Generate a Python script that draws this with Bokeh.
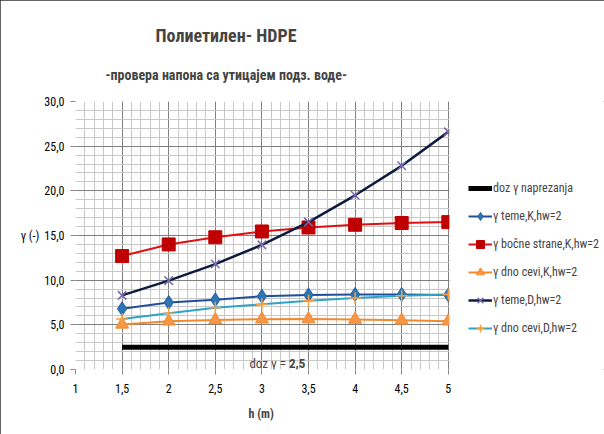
from bokeh.plotting import figure
from bokeh.models import Legend, LegendItem, Label, FixedTicker, Title, BoxAnnotation
from bokeh.embed import file_html
from bokeh.resources import INLINE

# ---- data ----
h = [1.5, 2.0, 2.5, 3.0, 3.5, 4.0, 4.5, 5.0]
doz_h = [1.5, 5.0]
doz_val = [2.5, 2.5]
teme_K = [6.8, 7.5, 7.8, 8.2, 8.35, 8.4, 8.4, 8.35]
bocne_K = [12.7, 14.0, 14.8, 15.45, 15.9, 16.2, 16.4, 16.5]
dno_K = [5.05, 5.4, 5.55, 5.63, 5.65, 5.6, 5.5, 5.4]
teme_D = [8.3, 9.95, 11.8, 13.95, 16.5, 19.5, 22.8, 26.6]
dno_D = [5.65, 6.3, 6.9, 7.3, 7.7, 8.0, 8.25, 8.4]

x_ticks = [1, 1.5, 2, 2.5, 3, 3.5, 4, 4.5, 5]
x_tick_labels = ["1", "1,5", "2", "2,5", "3", "3,5", "4", "4,5", "5"]
y_ticks = [0, 5, 10, 15, 20, 25, 30]
y_tick_labels = ["0,0", "5,0", "10,0", "15,0", "20,0", "25,0", "30,0"]

legend_labels = ["doz γ naprezanja", "γ teme,K,hw=2", "γ bočne strane,K,hw=2",
                 "γ dno cevi,K,hw=2", "γ teme,D,hw=2", "γ dno cevi,D,hw=2"]

FONT = "Noto Sans Condensed, Roboto Condensed, Liberation Sans Narrow, DejaVu Sans Condensed, sans-serif"

X_MAX = 5
# the frame runs on to the right edge; the part right of the last tick holds the legend
p = figure(width=604, height=434, x_range=(1, 6.676), y_range=(0, 30),
           output_backend="svg", toolbar_location=None,
           min_border_left=75, min_border_right=0,
           min_border_top=101, min_border_bottom=65)
p.styles = {"outline": "1px solid #333333", "outline-offset": "-1px"}

p.outline_line_color = None
p.xaxis.ticker = FixedTicker(ticks=x_ticks,
                             minor_ticks=[1 + i * 0.1 for i in range(41)])
p.yaxis.ticker = FixedTicker(ticks=y_ticks, minor_ticks=list(range(31)))
p.xaxis.major_label_overrides = dict(zip(x_ticks, x_tick_labels))
p.yaxis.major_label_overrides = dict(zip(y_ticks, y_tick_labels))

for ax in (p.xaxis, p.yaxis):
    ax.major_label_text_font = FONT
    ax.major_label_text_font_size = "12px"
    ax.major_label_text_color = "#000000"
    ax.axis_line_color = None
    ax.major_tick_line_color = "#888888"
    ax.minor_tick_line_color = None
    ax.major_tick_out = 5
    ax.major_tick_in = 0
    ax.axis_label_text_font = FONT
    ax.axis_label_text_font_size = "12px"
    ax.axis_label_text_color = "#000000"

p.xaxis.major_label_standoff = 9
p.yaxis.axis_label = "γ (-)"
p.yaxis.axis_label_orientation = "horizontal"
p.yaxis.axis_label_standoff = 2
p.yaxis.axis_label_text_font_style = "normal"
p.yaxis.major_label_standoff = 6

p.xgrid.grid_line_color = "#7f7f7f"
p.ygrid.grid_line_color = "#7f7f7f"
p.xgrid.minor_grid_line_color = "#c8c8c8"
p.ygrid.minor_grid_line_color = "#c8c8c8"

# white cover for the area right of the plot (legend area)
p.add_layout(BoxAnnotation(left=X_MAX + 0.012, fill_color="white", fill_alpha=1,
                           line_color=None))

# series
r_doz = p.line(doz_h, doz_val, line_color="black", line_width=5)

r1l = p.line(h, teme_K, line_color="#1f4e9a", line_width=2)
r1m = p.scatter(h, teme_K, marker="diamond", size=14, fill_color="#2e75b6",
                line_color="#1f5fa0")

r2l = p.line(h, bocne_K, line_color="#e01010", line_width=2)
r2m = p.scatter(h, bocne_K, marker="square", size=13, fill_color="#c00000",
                line_color="#c00000")

r3l = p.line(h, dno_K, line_color="#f08a30", line_width=2)
r3m = p.scatter(h, dno_K, marker="triangle", size=13, fill_color="#f79646",
                line_color="#f08a30")

r5l = p.line(h, dno_D, line_color="#2fa3c5", line_width=2)
r5m = p.scatter(h, dno_D, marker="cross", size=12, line_color="#f5a040",
                line_width=1.5)

r4l = p.line(h, teme_D, line_color="#0d1b3e", line_width=2.5)
r4m = p.scatter(h, teme_D, marker="x", size=12, line_color="#7a68b0",
                line_width=1.5)

legend = Legend(items=[
    LegendItem(label=legend_labels[0], renderers=[r_doz]),
    LegendItem(label=legend_labels[1], renderers=[r1l, r1m]),
    LegendItem(label=legend_labels[2], renderers=[r2l, r2m]),
    LegendItem(label=legend_labels[3], renderers=[r3l, r3m]),
    LegendItem(label=legend_labels[4], renderers=[r4l, r4m]),
    LegendItem(label=legend_labels[5], renderers=[r5l, r5m]),
], location=(393, 31))
legend.label_text_font = FONT
legend.label_text_font_size = "12px"
legend.label_standoff = 1
legend.glyph_width = 24
legend.spacing = 8
legend.padding = 0
legend.margin = 0
legend.border_line_color = None
legend.background_fill_alpha = 0
p.add_layout(legend, "center")

# annotations
p.add_layout(Label(x=3.29, y=0.72, text="doz γ = ", text_font=FONT,
                   text_font_size="13px", text_align="right",
                   text_baseline="middle"))
p.add_layout(Label(x=3.29, y=0.72, text="2,5", text_font=FONT,
                   text_font_size="13px", text_font_style="bold",
                   text_align="left", text_baseline="middle"))

# x-axis title placed under the plot part of the frame
p.add_layout(Title(text="h (m)", text_font=FONT, text_font_size="12px",
                   text_font_style="bold", align="left", offset=173,
                   standoff=18), "below")

# titles (subtitle first: it sits closest to the plot)
p.add_layout(Title(text="-провера напона са утицајем подз. воде-",
                   text_font=FONT, text_font_size="14px",
                   text_font_style="bold", align="left", offset=30,
                   standoff=38), "above")
p.add_layout(Title(text="Полиетилен- HDPE", text_font=FONT,
                   text_font_size="18px", text_font_style="bold",
                   align="left", offset=80, standoff=0), "above")

open("out.html", "w").write(file_html(p, INLINE))
